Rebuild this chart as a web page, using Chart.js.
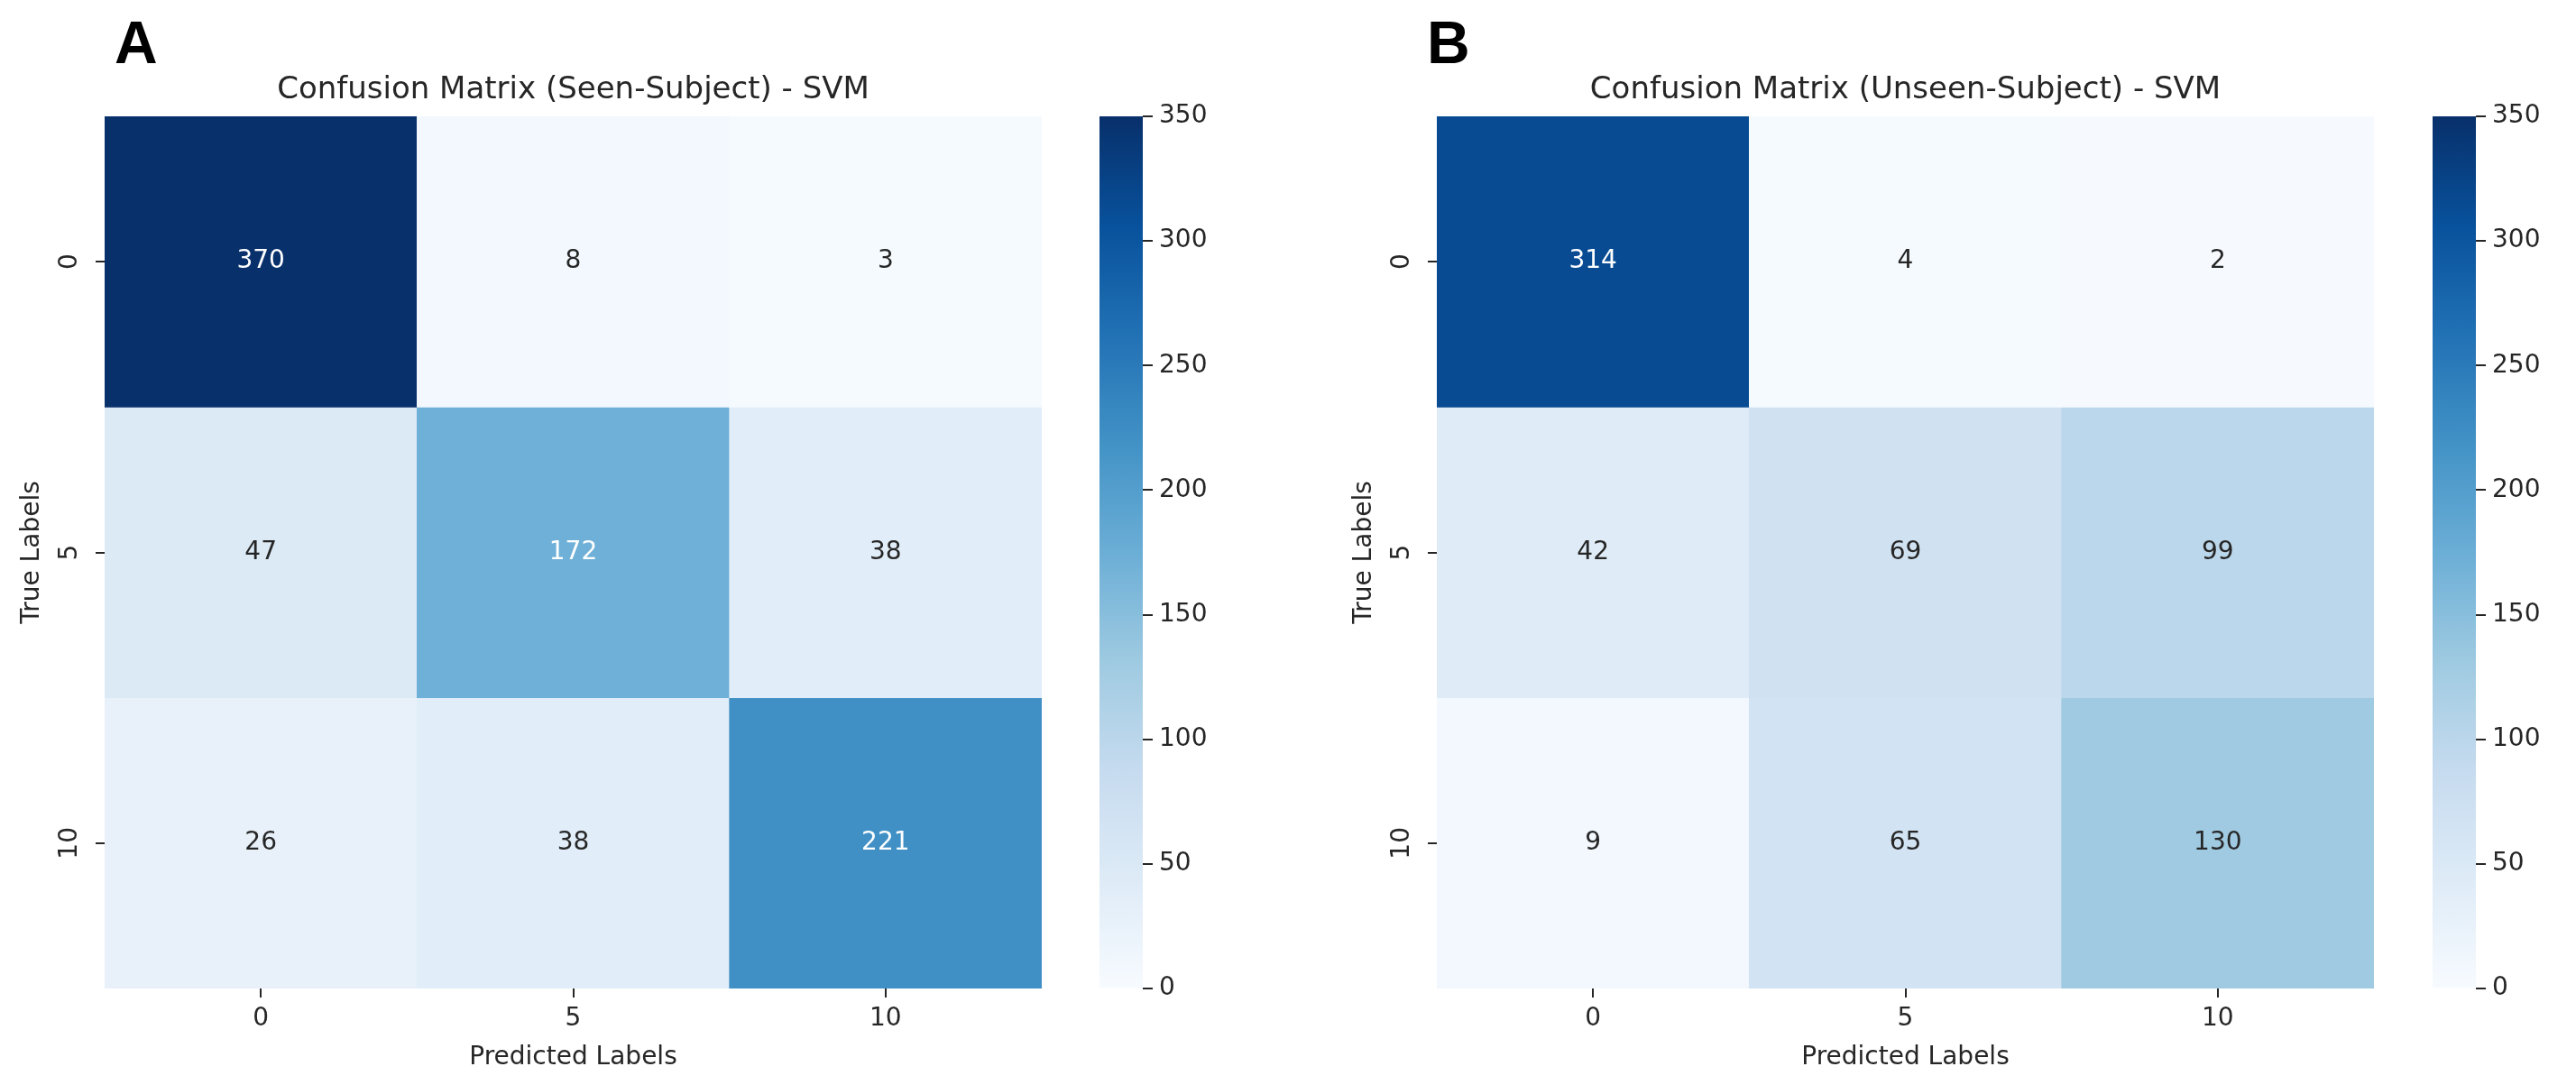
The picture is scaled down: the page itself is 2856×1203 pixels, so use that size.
<!DOCTYPE html>
<html lang="en">
<head>
<meta charset="UTF-8">
<title>Confusion Matrix - SVM</title>
<script src="https://cdn.jsdelivr.net/npm/chart.js"></script>
<style>
  body {
    margin: 0;
    background: #fff;
    width: 2856px;
    height: 1203px;
    position: relative;
    overflow: hidden;
  }
  canvas {
    position: absolute;
    top: 0;
  }
  .panel-tag {
    position: absolute;
    top: 14px;
    font: bold 66px/1 "Liberation Sans", Arial, sans-serif;
    color: #000;
  }
</style>
</head>
<body>
<div class="panel-tag" style="left:127px">A</div>
<div class="panel-tag" style="left:1582px">B</div>
<canvas id="cmSeen" width="1160" height="1203" style="left:0"></canvas>
<canvas id="cbSeen" width="160" height="1203" style="left:1200px"></canvas>
<canvas id="cmUnseen" width="1160" height="1203" style="left:1477px"></canvas>
<canvas id="cbUnseen" width="160" height="1203" style="left:2678px"></canvas>
<script>
// labels on both axes
const predictedLabels = ['0', '5', '10'];
const trueLabels = ['0', '5', '10'];

// rows = true label, columns = predicted label
const seenCounts = [
  [370, 8, 3],
  [47, 172, 38],
  [26, 38, 221]
];
const unseenCounts = [
  [314, 4, 2],
  [42, 69, 99],
  [9, 65, 130]
];

// colour scale range and colorbar ticks
const vmin = 0;
const vmax = 350;
const colorbarStep = 50;

// matplotlib "Blues"
const BLUES = ['#f7fbff', '#deebf7', '#c6dbef', '#9ecae1', '#6baed6', '#4292c6', '#2171b5', '#08519c', '#08306b'];
const TEXT = '#262626';

Chart.defaults.font.family = '"DejaVu Sans", sans-serif';
Chart.defaults.color = TEXT;

function hexRgb(h) {
  return [1, 3, 5].map(i => parseInt(h.slice(i, i + 2), 16));
}

function bluesRgb(v) {
  let t = (v - vmin) / (vmax - vmin);
  t = Math.max(0, Math.min(1, t)) * (BLUES.length - 1);
  const i = Math.min(Math.floor(t), BLUES.length - 2);
  const f = t - i;
  const a = hexRgb(BLUES[i]), b = hexRgb(BLUES[i + 1]);
  return a.map((c, k) => Math.round(c + (b[k] - c) * f));
}

function blues(v) {
  const c = bluesRgb(v);
  return 'rgb(' + c.join(',') + ')';
}

// same rule seaborn uses to pick annotation colour
function textColor(v) {
  const lin = bluesRgb(v).map(c => {
    c /= 255;
    return c <= 0.03928 ? c / 12.92 : Math.pow((c + 0.055) / 1.055, 2.4);
  });
  const lum = 0.2126 * lin[0] + 0.7152 * lin[1] + 0.0722 * lin[2];
  return lum > 0.408 ? TEXT : '#ffffff';
}

const cellLabels = {
  id: 'cellLabels',
  afterDatasetsDraw(chart) {
    const ctx = chart.ctx;
    ctx.save();
    ctx.font = '28px "DejaVu Sans"';
    ctx.textAlign = 'center';
    ctx.textBaseline = 'middle';
    chart.data.datasets.forEach((ds, i) => {
      chart.getDatasetMeta(i).data.forEach((bar, j) => {
        const v = ds.counts[j];
        const p = bar.getCenterPoint();
        ctx.fillStyle = textColor(v);
        ctx.fillText(String(v), p.x, p.y);
      });
    });
    ctx.restore();
  }
};

const tickGrid = {
  display: true,
  drawOnChartArea: false,
  drawTicks: true,
  tickLength: 10,
  offset: false,
  color: TEXT,
  lineWidth: 2
};

function heatmap(id, title, counts) {
  const datasets = counts.map((row, r) => ({
    label: trueLabels[r],
    data: row.map(() => [r - 0.5, r + 0.5]),
    counts: row,
    backgroundColor: row.map(v => blues(v)),
    borderWidth: 0,
    barPercentage: 1,
    categoryPercentage: 1,
    grouped: false
  }));

  new Chart(document.getElementById(id), {
    type: 'bar',
    data: { labels: predictedLabels, datasets: datasets },
    options: {
      responsive: false,
      animation: false,
      layout: { padding: { top: 80, right: 5, bottom: 13, left: 0 } },
      plugins: {
        legend: { display: false },
        tooltip: { enabled: false },
        title: {
          display: true,
          text: title,
          fullSize: false,
          color: TEXT,
          font: { size: 34, weight: 'normal' },
          padding: { top: 0, bottom: 8.2 }
        }
      },
      scales: {
        x: {
          afterFit: s => { s.height = 94; },
          grid: tickGrid,
          border: { display: false },
          ticks: { font: { size: 28 }, padding: 7 },
          title: { display: true, text: 'Predicted Labels', font: { size: 28 }, padding: 0 }
        },
        y: {
          type: 'linear',
          reverse: true,
          min: -0.5,
          max: 2.5,
          afterBuildTicks: s => { s.ticks = trueLabels.map((_, i) => ({ value: i })); },
          afterFit: s => { s.width = 116; },
          grid: tickGrid,
          border: { display: false },
          ticks: {
            callback: v => trueLabels[v],
            minRotation: 90,
            maxRotation: 90,
            crossAlign: 'center',
            padding: 10,
            font: { size: 28 }
          },
          title: { display: true, text: 'True Labels', font: { size: 28 }, padding: { top: 19, bottom: 0 } }
        }
      }
    },
    plugins: [cellLabels]
  });
}

function colorbar(id) {
  new Chart(document.getElementById(id), {
    type: 'bar',
    data: {
      labels: [''],
      datasets: [{
        data: [vmax],
        backgroundColor: c => {
          const area = c.chart.chartArea;
          if (!area) return BLUES[4];
          const g = c.chart.ctx.createLinearGradient(0, area.bottom, 0, area.top);
          BLUES.forEach((col, i) => g.addColorStop(i / (BLUES.length - 1), col));
          return g;
        },
        borderWidth: 0,
        barPercentage: 1,
        categoryPercentage: 1
      }]
    },
    options: {
      responsive: false,
      animation: false,
      layout: { padding: { top: 129, right: 0, bottom: 107, left: 19 } },
      plugins: { legend: { display: false }, tooltip: { enabled: false } },
      scales: {
        x: { display: false },
        y: {
          position: 'right',
          min: vmin,
          max: vmax,
          afterFit: s => { s.width = 93; },
          grid: { drawOnChartArea: false, drawTicks: true, tickLength: 11, color: TEXT, lineWidth: 2 },
          border: { display: false },
          ticks: { stepSize: colorbarStep, padding: 7, font: { size: 28 } }
        }
      }
    }
  });
}

heatmap('cmSeen', 'Confusion Matrix (Seen-Subject) - SVM', seenCounts);
colorbar('cbSeen');
heatmap('cmUnseen', 'Confusion Matrix (Unseen-Subject) - SVM', unseenCounts);
colorbar('cbUnseen');
</script>
</body>
</html>
